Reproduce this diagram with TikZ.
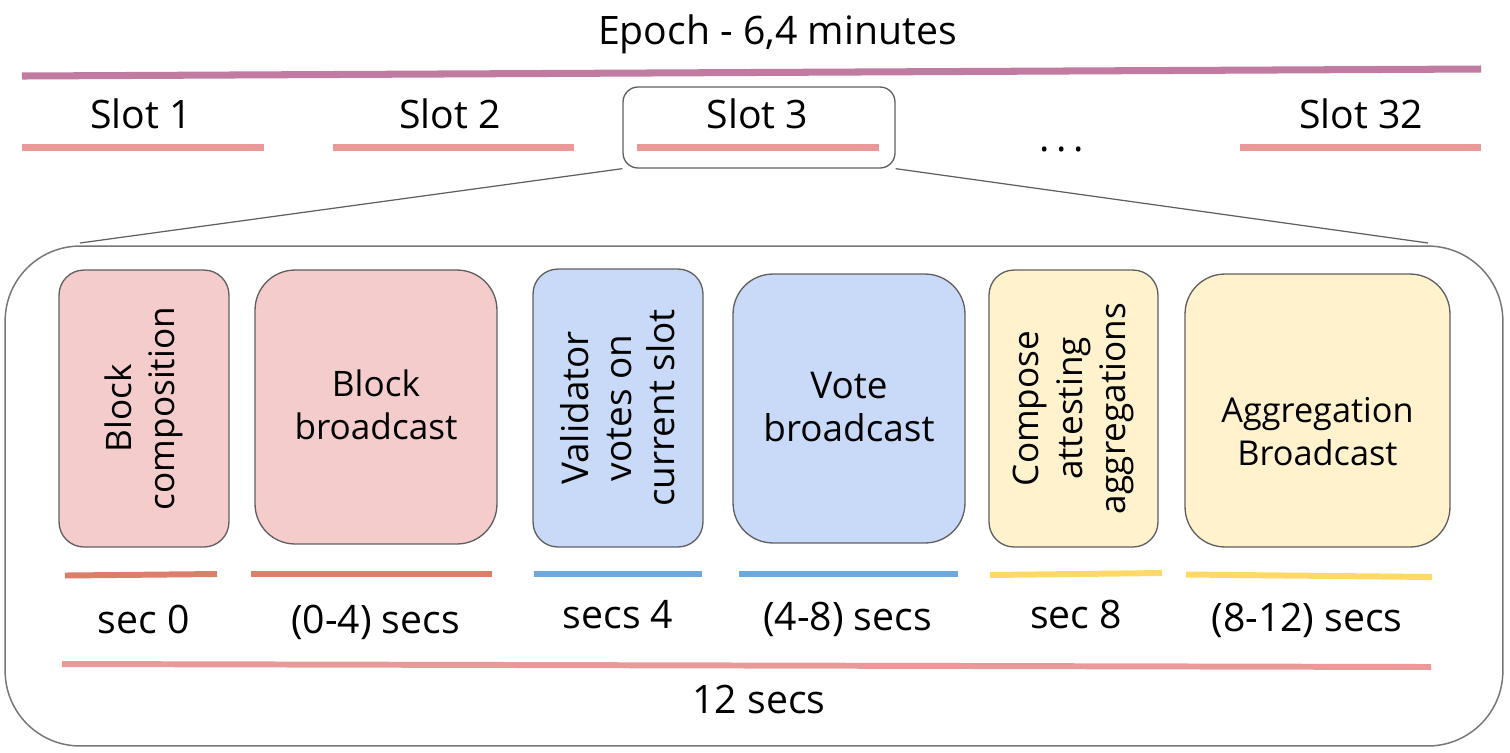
\documentclass[tikz,border=0pt]{standalone}
\usepackage{fontspec}
\setmainfont{Open Sans}
\definecolor{lila}{HTML}{C27BA0}
\definecolor{rosa}{HTML}{EA9999}
\definecolor{rot}{HTML}{DD7E6B}
\definecolor{blau}{HTML}{6FA8DC}
\definecolor{gelb}{HTML}{FFD966}
\definecolor{hellrot}{HTML}{F4CCCC}
\definecolor{hellblau}{HTML}{C9DAF8}
\definecolor{hellgelb}{HTML}{FFF2CC}
\definecolor{grau}{HTML}{5F5F5F}

\begin{document}
\begin{tikzpicture}[x=0.02cm, y=-0.02cm,
  feld/.style={draw=grau, line width=0.75pt, rounded corners=#1, inner sep=0pt},
  schrift/.style={align=center, inner sep=0pt, font=\fontsize{#1}{24.5}\selectfont},
  text22/.style={anchor=base, inner sep=0pt, font=\fontsize{22.3}{26}\selectfont},
  balken/.style={line width=3.4pt}]
\useasboundingbox (0,0) rectangle (1510,752);

% epoch
\node[text22] (titel) at (777.5, 44) {Epoch - 6,4 minutes};
\draw[lila, line width=4pt] (22, 76) -- (1481, 69);

% slots
\node[feld=0.3cm, minimum width=5.44cm, minimum height=1.62cm] (rahmen) at (759, 127.5) {};
\node[text22] (slot1) at (141, 128) {Slot 1};
\node[text22] (slot2) at (450, 128) {Slot 2};
\node[text22] (slot3) at (757.5, 128) {Slot 3};
\node[text22] (punkte) at (1062, 151) {.\,.\,.};
\node[text22] (slot32) at (1361, 128) {Slot 32};
\draw[rosa, balken, line width=3.8pt] (22, 147.5) -- (264, 147.5);
\draw[rosa, balken, line width=3.8pt] (333, 147.5) -- (574, 147.5);
\draw[rosa, balken, line width=3.8pt] (637, 147.5) -- (879, 147.5);
\draw[rosa, balken, line width=3.8pt] (1240, 147.5) -- (1481, 147.5);

% zoom auf slot 3
\node[draw=grau!85, line width=0.85pt, rounded corners=1.5cm, inner sep=0pt,
  minimum width=29.96cm, minimum height=10cm] (slotfeld) at (754, 496) {};
\coordinate (zl) at (80, 243);
\coordinate (zr) at (1428, 243);
\draw[grau, line width=0.7pt] (rahmen.south west) -- (zl);
\draw[grau, line width=0.7pt] (rahmen.south east) -- (zr);

% phasen
\node[feld=0.5cm, fill=hellrot, minimum width=3.4cm, minimum height=5.54cm] (komp) at (144, 408.5) {};
\node[feld=0.8cm, fill=hellrot, minimum width=4.84cm, minimum height=5.48cm] (blockbc) at (376, 407) {};
\node[feld=0.5cm, fill=hellblau, minimum width=3.4cm, minimum height=5.56cm] (votes) at (618, 408) {};
\node[feld=0.8cm, fill=hellblau, minimum width=4.64cm, minimum height=5.38cm] (votebc) at (849, 408.5) {};
\node[feld=0.5cm, fill=hellgelb, minimum width=3.38cm, minimum height=5.54cm] (compose) at (1073.5, 408.5) {};
\node[feld=0.8cm, fill=hellgelb, minimum width=5.3cm, minimum height=5.46cm] (aggbc) at (1317.5, 410.5) {};

\node[schrift=20, rotate=90] at (komp) {Block\\composition};
\node[schrift=20] at (376, 404.7) {Block\\broadcast};
\node[schrift=21, rotate=90] at (votes) {Validator\\votes on\\current slot};
\node[schrift=21] at (849, 406.8) {Vote\\broadcast};
\node[schrift=20, rotate=90] at (compose) {Compose\\attesting\\aggregations};
\node[schrift=19.5] at (1317.5, 432) {Aggregation\\Broadcast};

% zeiten
\draw[rot, balken] (65, 575.5) -- (217, 574);
\draw[rot, balken] (251, 574) -- (492, 574);
\draw[blau, balken] (534, 574) -- (702, 574);
\draw[blau, balken] (739, 573.5) -- (958, 573.5);
\draw[gelb, balken] (990, 575) -- (1162, 573);
\draw[gelb, balken] (1186, 574.5) -- (1432, 577);
\node[text22] (t0) at (143.5, 633) {sec 0};
\node[text22] (t04) at (375.5, 633) {(0-4) secs};
\node[text22] (t4) at (618, 628) {secs 4};
\node[text22] (t48) at (847.5, 630) {(4-8) secs};
\node[text22] (t8) at (1076, 628) {sec 8};
\node[text22] (t812) at (1307, 631) {(8-12) secs};
\draw[rosa, balken] (62, 664) -- (1431, 667);
\node[text22] (t12) at (759, 713) {12 secs};
\end{tikzpicture}
\end{document}
